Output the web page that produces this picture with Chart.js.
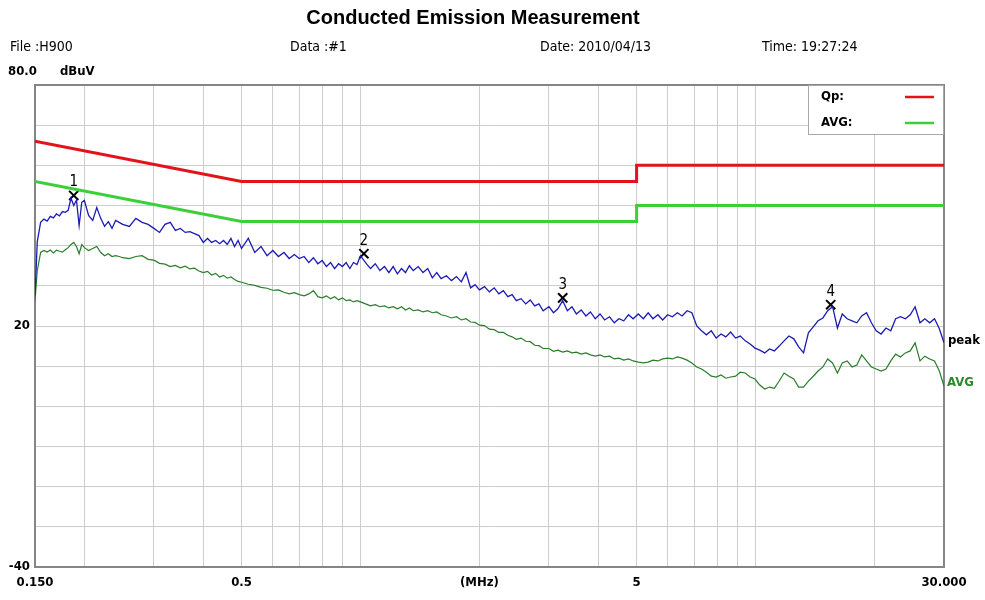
<!DOCTYPE html>
<html>
<head>
<meta charset="utf-8">
<title>Conducted Emission Measurement</title>
<script src="https://cdn.jsdelivr.net/npm/chart.js@4.4.1/dist/chart.umd.min.js"></script>
<style>
  html, body { margin: 0; padding: 0; background: #fff; }
  #wrap { width: 985px; height: 600px; }
</style>
</head>
<body>
<div id="wrap"><canvas id="emiChart" width="985" height="600"></canvas></div>
<script>
// frequency points of the scan (MHz)
const freqs = [
  0.150, 0.152, 0.155, 0.158, 0.161, 0.164, 0.167, 0.170, 0.173, 0.176,
  0.179, 0.182, 0.185, 0.188, 0.191, 0.194, 0.197, 0.200, 0.205, 0.210,
  0.215, 0.220, 0.225, 0.230, 0.235, 0.240, 0.245, 0.250, 0.26, 0.27,
  0.28, 0.29, 0.30, 0.31, 0.32, 0.33, 0.34, 0.35, 0.36, 0.37,
  0.38, 0.39, 0.40, 0.41, 0.42, 0.43, 0.44, 0.45, 0.46, 0.47,
  0.48, 0.49, 0.50, 0.52, 0.54, 0.56, 0.58, 0.60, 0.62, 0.64,
  0.66, 0.68, 0.70, 0.72, 0.74, 0.76, 0.78, 0.80, 0.82, 0.84,
  0.86, 0.88, 0.90, 0.92, 0.94, 0.96, 0.98, 1.00, 1.03, 1.06,
  1.09, 1.12, 1.15, 1.18, 1.21, 1.24, 1.27, 1.30, 1.33, 1.36,
  1.40, 1.44, 1.48, 1.52, 1.56, 1.60, 1.65, 1.70, 1.75, 1.80,
  1.85, 1.90, 1.95, 2.00, 2.06, 2.12, 2.18, 2.24, 2.30, 2.36,
  2.42, 2.48, 2.55, 2.62, 2.69, 2.76, 2.83, 2.90, 3.00, 3.08,
  3.16, 3.25, 3.34, 3.43, 3.52, 3.62, 3.72, 3.82, 3.93, 4.04,
  4.15, 4.27, 4.39, 4.51, 4.64, 4.77, 4.90, 5.05, 5.20, 5.35,
  5.50, 5.66, 5.82, 5.99, 6.16, 6.34, 6.52, 6.71, 6.90, 7.10,
  7.30, 7.51, 7.73, 7.95, 8.18, 8.41, 8.65, 8.90, 9.15, 9.42,
  9.69, 9.97, 10.25, 10.55, 10.85, 11.16, 11.48, 11.81, 12.15, 12.50,
  12.86, 13.23, 13.61, 14.00, 14.40, 14.81, 15.23, 15.67, 16.12, 16.58,
  17.06, 17.55, 18.05, 18.57, 19.10, 19.65, 20.21, 20.79, 21.39, 22.00,
  22.63, 23.28, 23.95, 24.64, 25.35, 26.08, 26.83, 27.60, 28.39, 29.20,
  30.00
];

// peak detector trace (dBuV)
const peakValues = [
  27.5, 41.0, 45.8, 46.6, 46.1, 47.3, 46.9, 47.9, 47.4, 48.5,
  48.3, 48.8, 51.8, 50.0, 51.3, 45.0, 50.8, 51.3, 47.5, 46.3,
  49.5, 46.8, 44.8, 46.0, 44.3, 46.3, 45.8, 45.3, 44.8, 46.8,
  45.8, 45.3, 44.3, 43.3, 45.3, 45.8, 43.8, 44.3, 43.3, 43.5,
  43.0, 42.5, 40.8, 41.8, 40.8, 41.3, 40.5, 41.3, 40.3, 41.8,
  39.8, 41.3, 39.3, 41.8, 38.3, 39.8, 37.5, 38.8, 37.3, 38.3,
  36.8, 37.8, 36.8, 37.3, 35.8, 37.0, 35.5, 36.3, 34.8, 35.8,
  34.3, 35.5, 34.8, 35.8, 34.3, 35.8, 35.3, 37.5, 35.8, 34.3,
  35.5, 33.8, 34.8, 33.3, 34.8, 33.0, 34.3, 33.3, 35.0, 33.8,
  34.8, 33.3, 34.3, 32.0, 33.3, 31.8, 32.5, 31.3, 32.3, 31.0,
  33.3, 29.5, 30.3, 29.0, 29.8, 28.5, 29.5, 28.0, 28.8, 27.3,
  27.8, 26.3, 26.8, 25.5, 26.5, 25.0, 25.5, 23.8, 24.8, 23.3,
  24.3, 26.3, 23.8, 24.8, 23.0, 24.0, 22.5, 23.5, 21.8, 23.0,
  21.5, 22.3, 20.8, 21.8, 21.3, 22.8, 21.8, 23.0, 21.8, 23.3,
  21.8, 22.8, 21.5, 22.8, 22.3, 23.3, 22.5, 23.8, 23.3, 20.0,
  18.8, 17.8, 18.8, 17.0, 18.0, 17.3, 18.5, 17.0, 17.5, 16.3,
  15.5, 14.5, 14.0, 13.3, 14.3, 13.8, 15.0, 16.3, 17.5, 16.8,
  14.8, 13.3, 18.3, 19.8, 21.3, 22.0, 23.8, 24.8, 19.5, 23.0,
  21.8, 21.3, 20.8, 22.5, 23.3, 20.8, 18.8, 18.0, 19.5, 18.8,
  21.8, 22.3, 21.8, 22.8, 24.8, 20.8, 21.8, 20.8, 21.8, 19.3,
  15.8
];

// average detector trace (dBuV)
const avgValues = [
  26.3, 33.8, 38.3, 38.8, 38.4, 38.9, 38.2, 38.9, 38.6, 38.4,
  39.0, 39.5, 40.3, 40.8, 39.8, 38.0, 40.3, 39.5, 38.8, 39.3,
  39.8, 38.3, 37.5, 38.0, 37.3, 37.5, 37.3, 37.0, 36.8, 37.3,
  37.5, 36.6, 36.4, 35.6, 35.4, 34.8, 35.1, 34.5, 34.9, 34.2,
  34.4, 33.7, 33.3, 33.6, 32.7, 33.1, 32.2, 32.6, 31.9, 32.2,
  31.6, 31.1, 30.9, 30.4, 30.1, 29.6, 29.4, 28.9, 29.0, 28.4,
  28.0, 28.3, 27.8, 27.5, 28.0, 28.8, 27.3, 27.0, 27.5, 26.8,
  27.3, 26.5, 27.0, 26.3, 26.5, 26.0, 26.3, 26.0, 25.5, 25.0,
  25.3, 24.8, 25.0, 24.5, 24.8, 24.3, 24.8, 24.0, 24.5, 23.8,
  24.0, 23.5, 23.8, 23.3, 23.5, 22.8, 22.5, 22.0, 22.3, 21.5,
  21.8, 21.0, 20.9, 20.2, 20.1, 19.2, 19.1, 18.4, 18.4, 17.7,
  17.3, 16.7, 17.0, 16.2, 16.1, 15.2, 15.1, 14.4, 14.4, 13.7,
  14.0, 13.5, 13.8, 13.3, 13.5, 13.0, 13.3, 12.8, 12.5, 12.8,
  12.3, 12.5, 11.8, 12.0, 11.5, 11.8, 11.3, 11.0, 10.8, 11.0,
  11.5, 11.3, 11.8, 12.0, 11.8, 12.3, 12.0, 11.5, 10.8, 9.8,
  9.3, 8.5, 7.5, 7.3, 7.8, 7.0, 7.3, 7.5, 8.5, 8.3,
  7.3, 6.8, 5.3, 4.3, 4.8, 4.5, 6.3, 8.3, 7.5, 6.8,
  4.8, 4.8, 6.3, 7.5, 8.8, 9.8, 11.8, 10.8, 8.3, 10.8,
  11.3, 9.8, 10.3, 12.8, 11.3, 9.8, 9.3, 8.8, 9.3, 11.3,
  13.0, 12.3, 13.3, 13.8, 15.8, 11.3, 12.5, 11.8, 11.3, 8.8,
  5.0
];

// limit lines (EN55022 class B)
const limitFreqs = [0.15, 0.5, 5, 5, 30];
const qpLimit = [66, 56, 56, 60, 60];
const avgLimit = [56, 46, 46, 50, 50];

// marked peaks
const markerFreqs = [0.188, 1.02, 3.25, 15.5];
const markerValues = [52.5, 38.0, 27.0, 25.3];
const markerLabels = ['1', '2', '3', '4'];

// axes
const xGridTicks = [0.15, 0.2, 0.3, 0.4, 0.5, 0.6, 0.7, 0.8, 0.9, 1, 2, 3, 4, 5, 6, 7, 8, 9, 10, 20, 30];
const xLabelTicks = [0.15, 0.5, 2, 5, 30];
const xLabelTexts = ['0.150', '0.5', '(MHz)', '5', '30.000'];
const yLabelTicks = [20, -40];

const NARROW = "'Liberation Sans Narrow', 'Arial Narrow', 'DejaVu Sans Condensed', 'Liberation Sans', sans-serif";
const toPoints = (xs, ys) => xs.map((f, i) => ({ x: f, y: ys[i] }));

const decorations = {
  id: 'decorations',
  beforeDatasetsDraw(chart) {
    const { ctx, chartArea: a } = chart;
    ctx.save();
    ctx.strokeStyle = '#858585';
    ctx.lineWidth = 2;
    ctx.strokeRect(a.left, a.top, a.right - a.left, a.bottom - a.top);
    ctx.restore();
  },
  afterDatasetsDraw(chart) {
    const { ctx, chartArea: a, scales } = chart;
    ctx.save();
    ctx.textBaseline = 'middle';

    // marker numbers
    ctx.fillStyle = '#000';
    ctx.textAlign = 'center';
    ctx.font = '15px ' + NARROW;
    chart.getDatasetMeta(4).data.forEach((pt, i) => {
      ctx.fillText(markerLabels[i], pt.x, pt.y - 13);
    });

    // trace end labels
    ctx.textAlign = 'left';
    ctx.font = 'bold 13px ' + NARROW;
    const yPeak = scales.y.getPixelForValue(peakValues[peakValues.length - 1]);
    const yAvg = scales.y.getPixelForValue(avgValues[avgValues.length - 1]);
    ctx.fillStyle = '#000';
    ctx.fillText('peak', a.right + 4, yPeak - 2);
    ctx.fillStyle = '#2a8a2a';
    ctx.fillText('AVG', a.right + 3, yAvg - 4);

    // legend box
    const bx = a.right - 136, by = a.top;
    ctx.fillStyle = '#fff';
    ctx.fillRect(bx, by, 136, 50);
    ctx.strokeStyle = '#a8a8a8';
    ctx.lineWidth = 1;
    ctx.strokeRect(bx + 0.5, by + 0.5, 135, 49);
    [0, 1].forEach(i => {
      const ds = chart.data.datasets[i];
      const ly = by + 12 + i * 26;
      ctx.fillStyle = '#000';
      ctx.font = 'bold 13px ' + NARROW;
      ctx.fillText(ds.label, bx + 13, ly);
      ctx.strokeStyle = ds.borderColor;
      ctx.lineWidth = 2.5;
      ctx.beginPath();
      ctx.moveTo(bx + 97, ly);
      ctx.lineTo(bx + 126, ly);
      ctx.stroke();
    });
    ctx.restore();
  },
  afterDraw(chart) {
    const { ctx } = chart;
    ctx.save();
    ctx.fillStyle = '#000';
    ctx.textBaseline = 'middle';
    ctx.textAlign = 'center';
    ctx.font = "bold 20px 'Liberation Sans', Arial, sans-serif";
    ctx.fillText('Conducted Emission Measurement', 473, 18);
    ctx.textAlign = 'left';
    ctx.font = '14px ' + NARROW;
    ctx.fillText('File :H900', 10, 47);
    ctx.fillText('Data :#1', 290, 47);
    ctx.fillText('Date: 2010/04/13', 540, 47);
    ctx.fillText('Time: 19:27:24', 762, 47);
    ctx.font = 'bold 13px ' + NARROW;
    ctx.fillText('80.0', 8, 72);
    ctx.fillText('dBuV', 60, 72);
    ctx.restore();
  }
};

const ctx = document.getElementById('emiChart').getContext('2d');

const chart = new Chart(ctx, {
  type: 'line',
  data: {
    datasets: [
      {
        label: 'Qp:',
        data: toPoints(limitFreqs, qpLimit),
        borderColor: '#e3121b',
        borderWidth: 3,
        pointRadius: 0,
        fill: false,
      },
      {
        label: 'AVG:',
        data: toPoints(limitFreqs, avgLimit),
        borderColor: '#3ccf3c',
        borderWidth: 3,
        pointRadius: 0,
        fill: false,
      },
      {
        label: 'peak',
        data: toPoints(freqs, peakValues),
        borderColor: '#1c1cb4',
        borderWidth: 1.3,
        pointRadius: 0,
        fill: false,
      },
      {
        label: 'AVG',
        data: toPoints(freqs, avgValues),
        borderColor: '#2a7d2a',
        borderWidth: 1.2,
        pointRadius: 0,
        fill: false,
      },
      {
        label: 'markers',
        data: toPoints(markerFreqs, markerValues),
        showLine: false,
        pointStyle: 'crossRot',
        pointRadius: 6.5,
        borderColor: '#000',
        borderWidth: 2,
      },
    ],
  },
  options: {
    responsive: false,
    animation: false,
    layout: { padding: { top: 85, right: 41, left: 0, bottom: 0 } },
    plugins: {
      legend: { display: false },
      tooltip: { enabled: false },
      title: { display: false },
    },
    scales: {
      x: {
        type: 'logarithmic',
        min: 0.15,
        max: 30,
        afterBuildTicks: s => { s.ticks = xGridTicks.map(v => ({ value: v })); },
        afterFit: s => { s.height = 33; },
        border: { display: false },
        grid: { color: '#cdcdcd', lineWidth: 1, drawTicks: false },
        ticks: {
          autoSkip: false,
          maxRotation: 0,
          padding: 8,
          color: '#000',
          font: { family: NARROW, size: 13, weight: 'bold' },
          callback: v => {
            const i = xLabelTicks.indexOf(v);
            return i >= 0 ? xLabelTexts[i] : '';
          }
        }
      },
      y: {
        min: -40,
        max: 80,
        afterFit: s => { s.width = 35; },
        border: { display: false },
        grid: { color: '#cdcdcd', lineWidth: 1, drawTicks: false },
        ticks: {
          stepSize: 10,
          padding: 5,
          color: '#000',
          font: { family: NARROW, size: 13, weight: 'bold' },
          callback: v => (yLabelTicks.includes(v) ? String(v) : '')
        }
      }
    }
  },
  plugins: [decorations]
});
</script>
</body>
</html>
